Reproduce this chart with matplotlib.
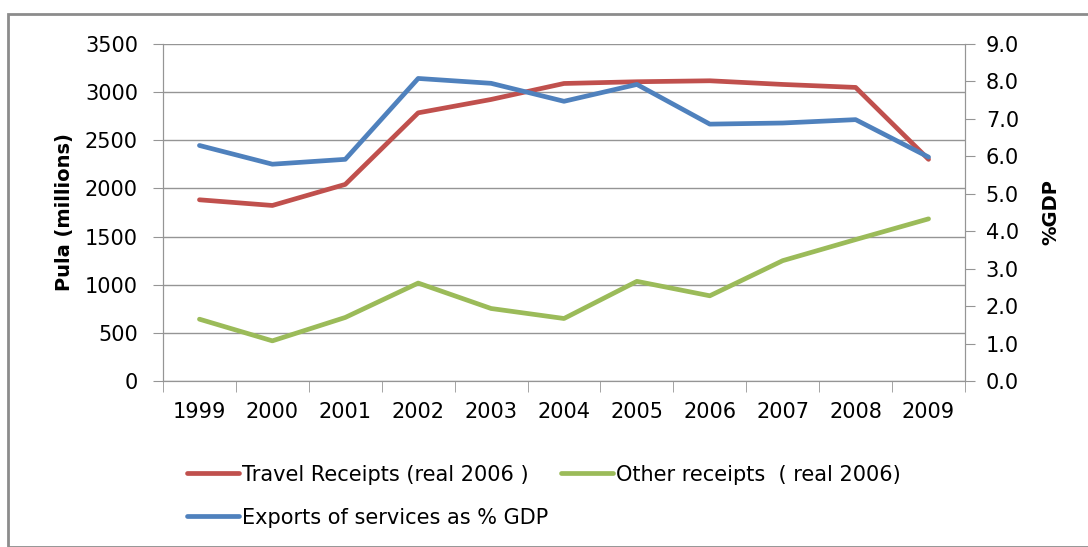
import matplotlib.pyplot as plt
from matplotlib.patches import Rectangle

years = ["1999", "2000", "2001", "2002", "2003", "2004", "2005", "2006", "2007", "2008", "2009"]
travel = [1882, 1823, 2042, 2785, 2924, 3090, 3108, 3118, 3080, 3049, 2302]
other = [642, 417, 660, 1017, 753, 649, 1035, 885, 1250, 1469, 1684]
exports_gdp = [6.29, 5.79, 5.92, 8.08, 7.95, 7.47, 7.92, 6.86, 6.89, 6.98, 5.98]

plt.rcParams['font.family'] = ['DejaVu Sans']

fig = plt.figure(figsize=(10.88, 5.47), dpi=100)
# chart area border
fig.patches.append(Rectangle((8 / 1088, 0), 1.2, 1 - 14 / 547, transform=fig.transFigure,
                             fill=False, edgecolor="#8c8c8c", linewidth=2))

ax = fig.add_axes([163 / 1088, 1 - 381 / 547, (965 - 163) / 1088, (381 - 44) / 547])
x = list(range(len(years)))
red, = ax.plot(x, travel, color="#C0504D", linewidth=3.4, solid_capstyle="round")
green, = ax.plot(x, other, color="#9BBB59", linewidth=3.4, solid_capstyle="round")
ax.set_xlim(-0.5, len(years) - 0.5)
ax.set_ylim(0, 3500)
ax.set_yticks(range(0, 3501, 500))
ax.yaxis.grid(True, color="#959595", linewidth=1)
ax.set_axisbelow(True)
ax.set_xticks(x)
ax.set_xticklabels(years)
ax.set_xticks([i - 0.5 for i in range(len(years) + 1)], minor=True)
ax.tick_params(axis="x", which="major", length=0, pad=15, labelsize=15)
ax.tick_params(axis="x", which="minor", length=8, color="#959595", direction="out")
ax.tick_params(axis="y", length=7, color="#959595", labelsize=15, pad=11)
ax.spines["top"].set_visible(False)
for s in ["left", "bottom", "right"]:
    ax.spines[s].set_color("#959595")
ax.set_ylabel("Pula (millions)", fontsize=14, fontweight="bold", labelpad=8)

ax2 = ax.twinx()
blue, = ax2.plot(x, exports_gdp, color="#4F81BD", linewidth=3.4, solid_capstyle="round")
ax2.set_ylim(0, 9)
ax2.set_yticks([i for i in range(10)])
ax2.set_yticklabels(["%.1f" % i for i in range(10)])
ax2.tick_params(axis="y", length=7, color="#959595", labelsize=15, pad=8)
ax2.spines["top"].set_visible(False)
for s in ["left", "bottom", "right"]:
    ax2.spines[s].set_color("#959595")
ax2.set_ylabel("%GDP", fontsize=14, fontweight="bold", labelpad=16)

fig.legend([red, blue, green],
           ["Travel Receipts (real 2006 )", "Exports of services as % GDP", "Other receipts  ( real 2006)"],
           ncol=2, loc="upper left", bbox_to_anchor=(168 / 1088, 1 - 446 / 547),
           frameon=False, fontsize=15, handlelength=2.5, handletextpad=0.15,
           columnspacing=0.6, labelspacing=1.1)

fig.savefig("out.png", dpi=100)
